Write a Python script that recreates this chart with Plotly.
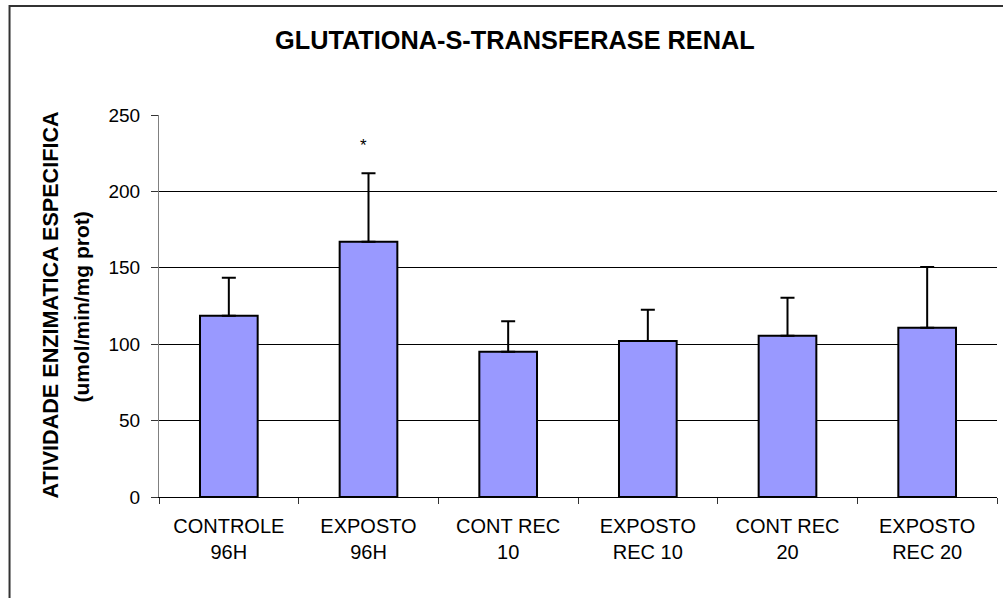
import plotly.graph_objects as go

categories = ["CONTROLE<br>96H", "EXPOSTO<br>96H", "CONT REC<br>10",
              "EXPOSTO<br>REC 10", "CONT REC<br>20", "EXPOSTO<br>REC 20"]
means = [118.7, 167.1, 95.1, 102.1, 105.6, 110.8]
errors_plus = [24.8, 44.7, 19.9, 20.5, 24.8, 39.7]
y_ticks = [0, 50, 100, 150, 200, 250]
star_label = "*"
star_category = categories[1]
star_value = 230

W, H = 1003, 598
L, R, T, B = 158.5, 996.7, 115, 497

def px_x(p):
    return (p - L) / (R - L)

def px_y(p):
    return (B - p) / (B - T)

FONT = "Liberation Sans, Arial, sans-serif"

fig = go.Figure()
fig.add_trace(go.Bar(
    x=categories, y=means,
    width=0.413,
    marker=dict(color="#9999FF", line=dict(color="black", width=2)),
    error_y=dict(type="data", symmetric=False, array=errors_plus,
                 arrayminus=[0] * len(means),
                 color="black", thickness=2, width=7),
))

fig.update_layout(
    width=W, height=H,
    margin=dict(l=L, r=W - R, t=T, b=H - B, autoexpand=False),
    plot_bgcolor="white", paper_bgcolor="white",
    showlegend=False,
    font=dict(family=FONT, color="black"),
    xaxis=dict(
        type="category",
        showline=True, linecolor="black", linewidth=1,
        ticks="outside", tickson="boundaries", ticklen=6,
        tickcolor="#333333",
        tickfont=dict(size=20, family=FONT, color="black"),
        showgrid=False,
        ticklabelstandoff=11,
    ),
    yaxis=dict(
        range=[0, 250], tickvals=y_ticks,
        showline=True, linecolor="#808080", linewidth=1,
        ticks="outside", ticklen=7, tickcolor="#333333",
        tickfont=dict(size=19, family=FONT, color="black"),
        showgrid=True, gridcolor="black", gridwidth=1,
        zeroline=False,
        ticklabelstandoff=7,
    ),
)

# frame around the whole chart
fig.add_shape(type="rect", xref="paper", yref="paper",
              x0=px_x(9), x1=px_x(1030), y0=px_y(640), y1=px_y(6),
              line=dict(color="#333333", width=2), layer="above")

fig.add_annotation(text="<b>GLUTATIONA-S-TRANSFERASE RENAL</b>",
                   xref="paper", yref="paper", x=px_x(514.5), y=px_y(40),
                   showarrow=False, font=dict(size=25.3, family=FONT, color="black"),
                   xanchor="center", yanchor="middle")

fig.add_annotation(text="<b>ATIVIDADE ENZIMATICA ESPECIFICA</b>",
                   xref="paper", yref="paper", x=px_x(49), y=px_y(305),
                   textangle=-90, showarrow=False,
                   font=dict(size=21.6, family=FONT, color="black"),
                   xanchor="center", yanchor="middle")
fig.add_annotation(text="<b>(umol/min/mg prot)</b>",
                   xref="paper", yref="paper", x=px_x(80), y=px_y(307),
                   textangle=-90, showarrow=False,
                   font=dict(size=21, family=FONT, color="black"),
                   xanchor="center", yanchor="middle")

fig.add_annotation(text=star_label, x=star_category, y=star_value,
                   xref="x", yref="y", showarrow=False, xshift=-5,
                   font=dict(size=17, family=FONT, color="black"))

fig.write_html("out.html",
               config={"displayModeBar": False},
               post_script="document.body.style.margin='0';"
                           "document.body.style.overflow='hidden';")
